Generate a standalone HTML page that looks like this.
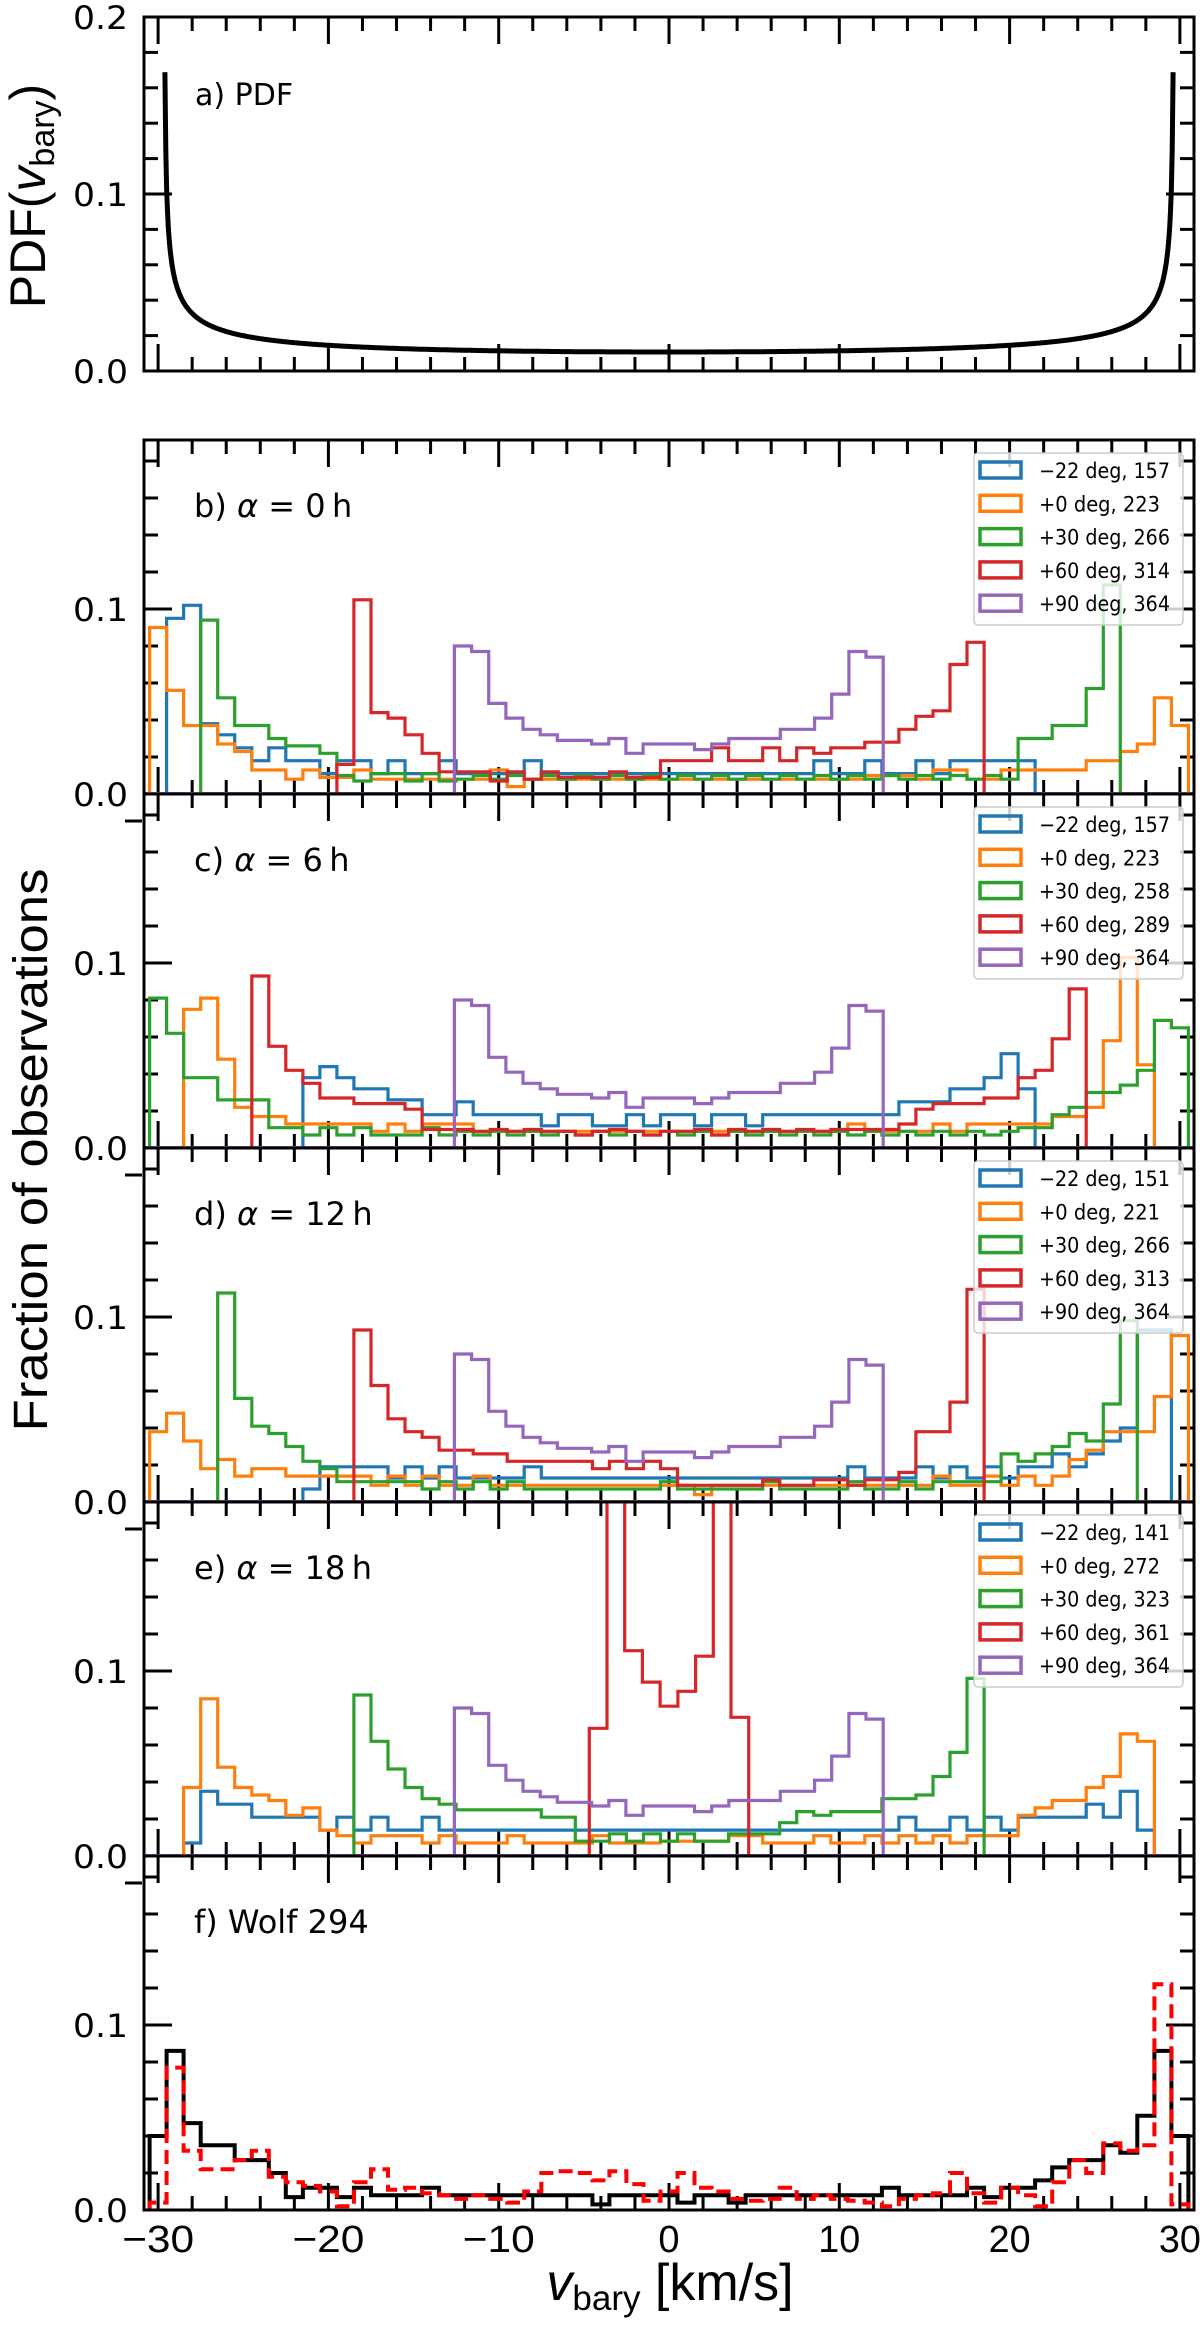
<!DOCTYPE html>
<html><head><meta charset="utf-8"><title>v_bary histograms</title>
<style>
html,body{margin:0;padding:0;background:#fff;}
svg{display:block;}
text{font-family:"DejaVu Sans","Liberation Sans",sans-serif;}
.narrow{font-family:"Liberation Sans Narrow","Liberation Sans",sans-serif;}
</style></head>
<body>
<svg id="fig" xmlns="http://www.w3.org/2000/svg" width="1200" height="2327" viewBox="0 0 1200 2327">
  <rect x="0" y="0" width="1200" height="2327" fill="#fff"/>
  <g transform="translate(47,1150) rotate(-90)">
    <text class="narrow" x="0" y="0" text-anchor="middle" font-size="48" textLength="563" lengthAdjust="spacingAndGlyphs">Fraction of observations</text>
  </g>
  <g transform="translate(45,196) rotate(-90)">
    <text class="narrow" x="0" y="0" text-anchor="middle" font-size="50">PDF(<tspan font-style="italic">v</tspan><tspan font-size="34" dy="9">bary</tspan><tspan dy="-9">)</tspan></text>
  </g>
  <text class="narrow" x="670" y="2300" text-anchor="middle" font-size="52"><tspan font-style="italic">v</tspan><tspan font-size="35" dy="10">bary</tspan><tspan dy="-10"> [km/s]</tspan></text>
</svg>
<script>
// ---------- data ----------
const xTicksMajor = [-30,-20,-10,0,10,20,30];
const xTickLabels = ["\u221230","\u221220","\u221210","0","10","20","30"];
const seriesColors = ["#1f77b4","#ff7f0e","#2ca02c","#d62728","#9467bd"];
const decLabels = ["\u221222 deg","+0 deg","+30 deg","+60 deg","+90 deg"];
const bCounts = [157,223,266,314,364];
const cCounts = [157,223,258,289,364];
const dCounts = [151,221,266,313,364];
const eCounts = [141,272,323,361,364];
const pdfHalfRange = [29.66];

// purple (+90 deg) is the same in all panels
const purpleStart = -12.6;
const purpleVals = [.080,.077,.049,.041,.035,.032,.029,.029,.027,.030,.022,.027,.027,.027,.024,.027,.030,.030,.030,.035,.035,.041,.054,.077,.074];

// panel b
const bBlueStart = -29.5;
const bBlue = [.095,.102,.038,.032,.025,.018,.025,.018,.018,.011,.018,.018,.011,.018,.011,.011,.018,.011,.011,.011,.011,.018,
 .011,.011,.011,.011,.011,.011,.011,.011,.011,.011,.011,.011,.011,.011,.011,.011,
 .018,.011,.011,.018,.011,.011,.018,.011,.018,.018,.018,.018,.018];
const bOrangeStart = -30.5;
const bOrange = [.090,.056,.037,.037,.027,.023,.013,.013,.008,.013,.009,.009,.013,.008,.008,.008,.008,.008,.008,.008,.013,.004,
 .008,.008,.008,.008,.008,.008,.008,.008,.008,.008,.008,.008,.008,.008,.008,.008,.008,.008,.008,.008,.010,.010,.010,.008,
 .013,.013,.008,.008,.013,.013,.013,.013,.013,.018,.018,.023,.027,.052,.037];
const bGreenStart = -27.5;
const bGreen = [.094,.052,.037,.037,.030,.026,.026,.022,.010,.007,.011,.011,.007,.011,.007,
 .008,.010,.008,.010,.008,.010,.008,.010,.008,.010,.008,.010,.008,.010,.008,.010,.008,.010,.008,.010,.008,.010,.008,.010,.008,.010,.008,.010,.008,.010,.008,.010,.008,
 .030,.030,.037,.037,.057,.113];
const bRedStart = -19.5;
const bRed = [.016,.105,.044,.041,.032,.022,.012,.012,.012,.007,.012,.008,.012,.009,.009,.009,.012,.009,.009,
 .018,.018,.018,.025,.018,.018,.025,.018,.025,.022,.025,.025,.028,.028,.035,.042,.045,.070,.082];

// panel c
const cBlueStart = -21.5;
const cBlue = [.038,.044,.038,.032,.032,.026,.026,.018,.018,.025,.018,.018,.018,.018,.012,.018,.018,.012,.012,.018,.012,.018,
 .018,.012,.018,.018,.012,.018,.018,.018,.018,.018,.018,.018,.018,.025,.025,.025,.032,.032,.038,.051,.032];
const cOrangeStart = -28.5;
const cOrange = [.075,.081,.048,.022,.017,.017,.013,.013,.013,.013,.013,.009,.013,.009,.013,.013,.013,
 .009,.009,.009,.009,.009,.009,.009,.009,.009,.009,.009,.009,.009,.009,.009,.009,.009,.009,.009,.009,.009,.009,
 .013,.009,.009,.009,.009,.013,.009,.013,.013,.013,.013,.013,.017,.017,.022,.058,.103,.045];
const cGreenStart = -30.5;
const cGreen = [.081,.062,.038,.038,.026,.026,.026,.011,.011,.007,.011,.007,.011,.007,.007,.007,.011,
 .007,.009,.007,.009,.007,.009,.007,.009,.007,.009,.007,.009,.007,.009,.007,.009,.007,.009,.007,.009,.007,.009,.007,.009,.007,.009,.007,.009,.007,.009,.007,.009,.007,.009,
 .011,.011,.018,.022,.030,.030,.034,.042,.069,.065];
const cRedStart = -24.5;
const cRed = [.093,.055,.042,.035,.027,.027,.024,.024,.024,.021,.010,
 .010,.010,.009,.010,.009,.010,.009,.009,.007,.009,.010,.009,.007,.009,.009,.010,.007,.010,.009,.010,.009,.010,.009,.010,.010,.010,.010,
 .013,.021,.024,.024,.024,.027,.027,.038,.042,.059,.086];

// panel d
const dBlueStart = -21.5;
const dBlue = [.007,.019,.019,.019,.019,.013,.019,.013,.019,.013,.013,.013,.013,.019,.013,.013,.013,.013,.013,.013,.013,.013,
 .013,.013,.013,.013,.013,.013,.013,.013,.013,.013,.019,.013,.013,.013,.019,.013,.019,.013,.019,.013,.019,.019,.026,.019,.026,.033,.040,.093,.093];
const dOrangeStart = -30.5;
const dOrange = [.038,.048,.033,.018,.023,.014,.018,.018,.014,.014,.014,.014,.014,.009,.014,.009,.014,.009,.009,.014,
 .009,.009,.009,.009,.009,.009,.009,.009,.009,.009,.009,.009,.004,
 .009,.009,.009,.009,.009,.009,.009,.009,.009,.009,.009,.009,.009,
 .014,.009,.009,.014,.009,.014,.009,.014,.023,.028,.038,.038,.038,.057,.090];
const dGreenStart = -26.5;
const dGreen = [.113,.056,.041,.037,.030,.022,.018,.011,.011,.011,.011,.011,.007,.011,.007,.011,.007,.011,
 .007,.007,.007,.007,.007,.007,.007,.007,.011,.007,.007,.007,.007,.007,.011,.007,.007,.007,.007,.011,.007,.007,.011,.007,
 .011,.011,.011,.011,.026,.022,.026,.030,.037,.033,.053,.098];
const dRedStart = -18.5;
const dRed = [.093,.063,.045,.038,.035,.028,.028,.026,.026,.022,.022,.022,.022,.022,.018,.022,.018,.022,.018,
 .009,.009,.009,.009,.009,.012,.009,.009,.012,.012,.009,.012,.012,.016,.038,.038,.054,.115];

// panel e
const eBlueStart = -28.5;
const eBlue = [.007,.035,.028,.028,.021,.021,.021,.021,.014,.021,.014,.021,.014,.014,.021,
 .014,.014,.014,.014,.014,.014,.014,.014,.014,.014,.014,.014,.014,.014,.014,.014,.014,.014,.014,.014,.014,.014,.014,.014,.014,.014,.014,
 .021,.014,.014,.021,.014,.021,.014,.021,.021,.021,.021,.028,.021,.035,.014];
const eOrangeStart = -28.5;
const eOrange = [.037,.085,.048,.037,.033,.030,.022,.026,.014,.011,.007,.011,.011,.011,.007,.011,.007,.007,.007,.011,.007,.007,.007,.007,.011,.007,.007,.007,
 .008,.008,.008,.008,.011,.011,.007,.007,.007,.011,.007,.007,.011,.007,.011,.007,.011,.007,.011,.011,.011,.022,.026,.030,.030,.037,.043,.066,.062];
const eGreenStart = -18.5;
const eGreen = [.087,.062,.047,.037,.031,.028,.025,.025,.025,.025,.025,.021,.021,.008,.008,.012,.008,.012,
 .008,.012,.008,.008,.012,.012,.012,.018,.024,.022,.024,.024,.024,.031,.031,.033,.043,.056,.096];
const eRedStart = -4.68;
const eRedWidth = [1.04];
const eRed = [.069,.25,.111,.094,.081,.089,.108,.25,.075];

// panel f (Wolf 294)
const fStart = -30.5;
const fBlack = [.040,.086,.047,.035,.035,.027,.027,.020,.007,.012,.012,.007,.012,.008,.008,.008,.012,
 .008,.008,.008,.008,.008,.008,.008,.008,.008,.003,.008,.008,.008,.008,.004,.008,.008,.004,
 .008,.008,.008,.008,.008,.008,.008,.008,.012,.008,.008,.008,.008,.012,.007,.012,.012,.016,.023,.027,.027,.035,.031,.051,.086,.040];
const fRed = [.004,.077,.032,.022,.022,.027,.032,.018,.015,.013,.010,.002,.015,.022,.011,.012,.009,.008,.006,.008,.006,.004,
 .010,.020,.021,.020,.016,.021,.014,.005,.010,.020,.012,.010,.006,.005,.006,.012,.006,.008,.006,.005,.004,.002,.006,.008,.009,.020,
 .009,.004,.012,.008,.002,.015,.027,.020,.036,.032,.035,.122,.003];

// ---------- drawing ----------
const NS = "http://www.w3.org/2000/svg";
const svg = document.getElementById("fig");
const X0 = 669, KX = 17.03, LEFT = 144, RIGHT = 1194;
const PH = 354, KY = 1850;
function xs(v){ return X0 + v*KX; }
function mk(tag, attrs, parent){
  const el = document.createElementNS(NS, tag);
  for (const k in attrs) el.setAttribute(k, attrs[k]);
  (parent||svg).appendChild(el);
  return el;
}
function stepPath(start, width, vals, ys){
  let d = "M" + xs(start).toFixed(1) + "," + ys(0).toFixed(1);
  for (let i=0;i<vals.length;i++){
    const x1 = xs(start + i*width), x2 = xs(start + (i+1)*width), y = ys(vals[i]);
    d += " L" + x1.toFixed(1) + "," + y.toFixed(1) + " L" + x2.toFixed(1) + "," + y.toFixed(1);
  }
  d += " L" + xs(start + vals.length*width).toFixed(1) + "," + ys(0).toFixed(1);
  return d;
}
function axes(id, top, bottom, ymax, kyy, yLabels, showX){
  const ys = v => bottom - v*kyy;
  const g = mk("g", {});
  
  
  for (let v=-30; v<=30; v+=2){
    const major = (v % 10 === 0);
    const L = major ? 27 : 14;
    const t1 = mk("line", {x1:xs(v), x2:xs(v), y1:top, y2:top+L, stroke:"#000","stroke-width":3}, g);
    
    
    const t2 = mk("line", {x1:xs(v), x2:xs(v), y1:bottom, y2:bottom-L, stroke:"#000","stroke-width":3}, g);
    
    
  }
  for (let k=0; k*0.02 <= ymax+1e-9; k++){
    const v = k*0.02;
    const major = (k % 5 === 0);
    const L = major ? 28 : 14;
    const y = ys(v);
    const t1 = mk("line", {x1:LEFT, x2:LEFT+L, y1:y, y2:y, stroke:"#000","stroke-width":3}, g);
    
    
    const t2 = mk("line", {x1:RIGHT, x2:RIGHT-L, y1:y, y2:y, stroke:"#000","stroke-width":3}, g);
    
    
  }
  yLabels.forEach(v => {
    const t = mk("text", {x:128, y:ys(v)+12, "text-anchor":"end", "font-size":32, textLength:55, lengthAdjust:"spacingAndGlyphs"}, g);
    
    
    t.textContent = v.toFixed(1);
  });
  if (showX){
    xTicksMajor.forEach((v,i) => {
      const lab = xTickLabels[i];
      const attrs = {x:xs(v), y:bottom+42, "text-anchor":"middle", "font-size":38, class:"narrow"};
      if (lab.length === 2) { attrs.textLength = 42; attrs.lengthAdjust = "spacingAndGlyphs"; }
      if (lab.length === 3) { attrs.textLength = 72; attrs.lengthAdjust = "spacingAndGlyphs"; }
      const t = mk("text", attrs, g);
      
      
      t.textContent = lab;
    });
  }
  return ys;
}
function frame(id, top, bottom){
  const r = mk("rect", {x:LEFT, y:top, width:RIGHT-LEFT, height:bottom-top, fill:"none", stroke:"#000", "stroke-width":3});
  
  
}
function clip(id, top, bottom){
  const cp = mk("clipPath", {id:"clip-"+id});
  mk("rect", {x:LEFT, y:top, width:RIGHT-LEFT, height:bottom-top}, cp);
  const g = mk("g", {"clip-path":"url(#clip-"+id+")"});
  return g;
}

// ----- panel a (PDF) -----
(function(){
  const top = 17, bottom = 371;
  const ys = axes("a", top, bottom, 0.2, 1770, [0.0,0.1,0.2], false);
  const g = clip("a", top, bottom);
  
  
  const A = pdfHalfRange[0];
  let d = "";
  for (let v=-29.6; v<=29.6001; v+=0.05){
    const p = 1/(Math.PI*Math.sqrt(A*A - v*v));
    d += (d ? " L" : "M") + xs(v).toFixed(1) + "," + ys(p).toFixed(1);
  }
  const path = mk("path", {d:d, fill:"none", stroke:"#000", "stroke-width":5}, g);
  
  
  frame("a", top, bottom);
  const t = mk("text", {x:195, y:105, "font-size":30});
  
  
  t.textContent = "a) PDF";
})();

// ----- panels b-e -----
const histPanels = [
  {id:"b", letter:"b", ra:"0", counts:bCounts, s:[[bBlueStart,bBlue],[bOrangeStart,bOrange],[bGreenStart,bGreen],[bRedStart,bRed]]},
  {id:"c", letter:"c", ra:"6", counts:cCounts, s:[[cBlueStart,cBlue],[cOrangeStart,cOrange],[cGreenStart,cGreen],[cRedStart,cRed]]},
  {id:"d", letter:"d", ra:"12", counts:dCounts, s:[[dBlueStart,dBlue],[dOrangeStart,dOrange],[dGreenStart,dGreen],[dRedStart,dRed]]},
  {id:"e", letter:"e", ra:"18", counts:eCounts, s:[[eBlueStart,eBlue],[eOrangeStart,eOrange],[eGreenStart,eGreen],[eRedStart,eRed]]}
];
const seriesNames = ["dec-minus22","dec-0","dec-30","dec-60","dec-90"];
histPanels.forEach((P, pi) => {
  const top = 440 + pi*PH, bottom = top + PH;
  const ys = axes(P.id, top, bottom, PH/KY, KY, [0.0,0.1], false);
  const g = clip(P.id, top, bottom);
  
  
  const base = mk("line", {x1:LEFT, x2:RIGHT, y1:bottom-1, y2:bottom-1, stroke:seriesColors[4], "stroke-width":2}, g);
  
  
  const all = P.s.concat([[purpleStart, purpleVals]]);
  all.forEach((sv, si) => {
    const w = (si === 4) ? 1.007 : ((P.id === "e" && si === 3) ? eRedWidth[0] : 1);
    const p = mk("path", {d:stepPath(sv[0], w, sv[1], ys), fill:"none", stroke:seriesColors[si], "stroke-width":3.2, "stroke-linejoin":"miter"}, g);
    
    
  });
  frame(P.id, top, bottom);
  if (pi > 0){
    const dash = mk("line", {x1:125, x2:142, y1:top+27, y2:top+27, stroke:"#000", "stroke-width":3});
    
    
  }
  const t = mk("text", {x:194, y:top+77, "font-size":32});
  
  
  t.innerHTML = P.letter + ') <tspan font-style="italic">\u03b1</tspan> = ' + P.ra + '\u2009h';
  const lg = mk("g", {});
  
  
  const box = mk("rect", {x:974, y:top+13, width:209, height:172, rx:4, fill:"#fff", "fill-opacity":0.8, stroke:"#ccc", "stroke-width":1.5}, lg);
  
  
  for (let i=0;i<5;i++){
    const cy = top + 30 + i*33.3;
    const r = mk("rect", {x:980, y:cy-8, width:41, height:16, fill:"none", stroke:seriesColors[i], "stroke-width":3.5}, lg);
    
    
    const lab = decLabels[i] + ", " + P.counts[i];
    const tt = mk("text", {x:1039, y:cy+8, "font-size":21, textLength:(i===1?121:131), lengthAdjust:"spacingAndGlyphs"}, lg);
    
    
    tt.textContent = lab;
  }
});

// ----- panel f -----
(function(){
  const top = 440 + 4*PH, bottom = top + PH;
  const ys = axes("f", top, bottom, PH/KY, KY, [0.0,0.1], true);
  const g = clip("f", top, bottom);
  
  
  const pb = mk("path", {d:stepPath(fStart, 1, fBlack, ys), fill:"none", stroke:"#000", "stroke-width":4}, g);
  
  
  const pr = mk("path", {d:stepPath(fStart, 1, fRed, ys), fill:"none", stroke:"#ff0000", "stroke-width":4, "stroke-dasharray":"14,7"}, g);
  
  
  frame("f", top, bottom);
  const dash = mk("line", {x1:125, x2:142, y1:top+27, y2:top+27, stroke:"#000", "stroke-width":3});
  
  
  const t = mk("text", {x:194, y:top+77, "font-size":32});
  
  
  t.textContent = "f) Wolf 294";
})();
</script>
</body></html>
